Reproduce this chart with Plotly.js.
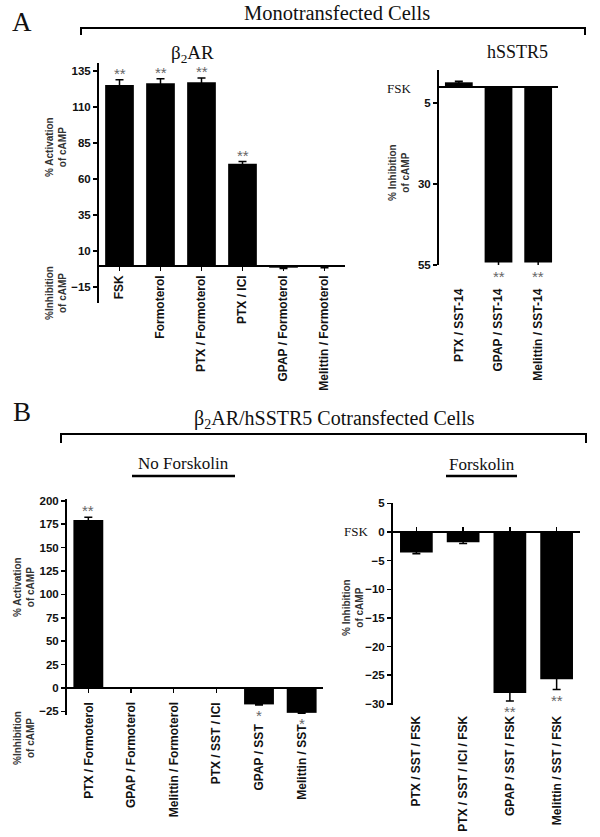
<!DOCTYPE html>
<html>
<head>
<meta charset="utf-8">
<script src="https://cdn.plot.ly/plotly-3.0.1.min.js"></script>
<style>body{margin:0;background:#fff}#chart{width:600px;height:837px}</style>
</head>
<body>
<div id="chart"></div>
<script>
// A - beta2AR monotransfected
var catsA1 = ["FSK", "Formoterol", "PTX / Formoterol", "PTX / ICI", "GPAP / Formoterol", "Melittin / Formoterol"];
var valsA1 = [125.3, 126.5, 127.1, 70.6, -1.5, -1];
var errA1 = [3.5, 3, 3, 1.5, 0.5, 0.5];
var sigA1 = ["**", "**", "**", "**", "", ""];
var ticksA1 = [-15, 10, 35, 60, 85, 110, 135];

// A - hSSTR5 monotransfected (inhibition drawn downwards)
var catsA2 = ["PTX / SST-14", "GPAP / SST-14", "Melittin / SST-14"];
var valsA2 = [-1.4, 54.2, 54.2];
var errA2 = [0.3, 1, 1];
var sigA2 = ["", "**", "**"];
var ticksA2 = [5, 30, 55];

// B - cotransfected, no forskolin
var catsB1 = ["PTX / Formoterol", "GPAP / Formoterol", "Melittin / Formoterol", "PTX / SST / ICI", "GPAP / SST", "Melittin / SST"];
var valsB1 = [179.5, 0, 0, 0, -17.5, -26.5];
var errB1 = [3, 0, 0, 0, 0.5, 0.5];
var sigB1 = ["**", "", "", "", "*", "*"];
var ticksB1 = [-25, 0, 25, 50, 75, 100, 125, 150, 175, 200];

// B - cotransfected, forskolin
var catsB2 = ["PTX / SST / FSK", "PTX / SST / ICI / FSK", "GPAP / SST / FSK", "Melittin / SST / FSK"];
var valsB2 = [-3.6, -1.8, -28.1, -25.7];
var errB2 = [0.2, 0.2, 1.4, 1.8];
var sigB2 = ["", "", "**", "**"];
var ticksB2 = [5, 0, -5, -10, -15, -20, -25, -30];

var W = 600, H = 837;
function fx(p) { return p / W; }
function fy(p) { return 1 - p / H; }

var SANS = "Liberation Sans, Arial, sans-serif";
var SERIF = "Liberation Serif, Times New Roman, serif";
var STAR = "#666";
var LABEL_FONT = {family: SANS, size: 12, color: "#111", weight: "bold"};

// panel boxes in pixels: x0, x1, ytop, ybottom, y range
var panels = [
  {cats: catsA1, vals: valsA1, err: errA1, sig: sigA1, ticks: ticksA1, x: [99, 345], y: [63, 303], range: [-26, 140.5], xt: "outside", stand: 0},
  {cats: catsA2, vals: valsA2, err: errA2, sig: sigA2, ticks: ticksA2, x: [439, 558], y: [70, 265], range: [55, -5.2], xt: "", stand: 196},
  {cats: catsB1, vals: valsB1, err: errB1, sig: sigB1, ticks: ticksB1, x: [67, 323], y: [499, 715], range: [-28.8, 201.9], xt: "outside", stand: 2, noteLabels: true},
  {cats: catsB2, vals: valsB2, err: errB2, sig: sigB2, ticks: ticksB2, x: [393, 580], y: [503, 705], range: [-30.2, 5.06], xt: "inside", stand: 178}
];

var data = [];
var layout = {
  width: W, height: H,
  margin: {l: 0, r: 0, t: 0, b: 0},
  paper_bgcolor: "white", plot_bgcolor: "rgba(0,0,0,0)",
  showlegend: false, bargap: 0.3,
  annotations: [], shapes: []
};

panels.forEach(function (p, i) {
  var n = i === 0 ? "" : String(i + 1);
  var yDom = [fy(p.y[1]), fy(p.y[0])];
  function toPaper(v) {
    return yDom[0] + (v - p.range[0]) / (p.range[1] - p.range[0]) * (yDom[1] - yDom[0]);
  }
  data.push({
    type: "bar", x: p.cats, y: p.vals,
    xaxis: "x" + n, yaxis: "y" + n,
    marker: {color: "black", line: {width: 0}},
    error_y: {type: "data", array: p.err, color: "black", thickness: 1.5, width: 4},
    hoverinfo: "x+y"
  });
  layout["xaxis" + n] = {
    domain: [fx(p.x[0]), fx(p.x[1])], anchor: "free", position: toPaper(0),
    type: "category", showline: true, linecolor: "black", linewidth: 2,
    showgrid: false, zeroline: false, showticklabels: !p.noteLabels,
    ticks: p.xt, ticklen: 4, tickwidth: 1.5, tickcolor: "black",
    tickangle: -90, ticklabelstandoff: p.stand,
    tickfont: LABEL_FONT
  };
  layout["yaxis" + n] = {
    domain: yDom, anchor: "x" + n, range: p.range,
    showline: true, linecolor: "black", linewidth: 2,
    showgrid: false, zeroline: false,
    tickmode: "array", tickvals: p.ticks,
    ticks: "outside", ticklen: 4, tickwidth: 1.5, tickcolor: "black",
    tickfont: {family: SANS, size: 11.5, color: "#111", weight: "bold"}
  };
  // category labels as rotated notes, dropped lower where a star sits under a bar
  if (p.noteLabels) {
    p.cats.forEach(function (c, k) {
      var starred = p.sig[k] && p.vals[k] < 0;
      layout.annotations.push({
        xref: "x" + n, yref: "paper", x: c, y: toPaper(0),
        text: c, showarrow: false, textangle: -90,
        xanchor: "center", yanchor: "top", yshift: starred ? -34 : -12,
        font: LABEL_FONT
      });
    });
  }
  p.sig.forEach(function (s, k) {
    if (!s) return;
    var end = p.vals[k] + (p.vals[k] >= 0 ? p.err[k] : -p.err[k]);
    var up = (p.range[1] > p.range[0]) === (p.vals[k] >= 0);
    layout.annotations.push({
      xref: "x" + n, yref: "paper", x: p.cats[k], y: toPaper(end),
      text: s, showarrow: false,
      yanchor: up ? "bottom" : "top", yshift: up ? -4 : 0,
      font: {family: SANS, size: 15, color: STAR}
    });
  });
});

function note(text, x, y, size, opts) {
  layout.annotations.push(Object.assign({
    xref: "paper", yref: "paper", x: fx(x), y: fy(y), text: text,
    showarrow: false, xanchor: "center", yanchor: "middle",
    font: {family: SERIF, size: size, color: "#111"}
  }, opts || {}));
}
function ytitle(text, x, y) {
  note(text, x, y, 10, {textangle: -90, font: {family: SANS, size: 10, color: "#333", weight: "bold"}});
}
function line(x0, y0, x1, y1, w) {
  layout.shapes.push({type: "line", xref: "paper", yref: "paper",
    x0: fx(x0), y0: fy(y0), x1: fx(x1), y1: fy(y1), line: {color: "black", width: w || 2}});
}

// headings and brackets
note("A", 22, 22, 27);
note("Monotransfected Cells", 337, 13, 20.5);
line(80, 28, 586, 28); line(81, 27, 81, 35); line(585, 27, 585, 35);
note("β<sub>2</sub>AR", 192, 54, 19);
note("hSSTR5", 517, 52, 18);
note("FSK", 399, 88, 13);

note("B", 22, 412, 27);
note("β<sub>2</sub>AR/hSSTR5 Cotransfected Cells", 334, 420, 20);
line(60, 434, 587, 434); line(61, 433, 61, 443); line(586, 433, 586, 443);
note("No Forskolin", 183, 463, 17);
line(132, 476, 235, 476, 2.5);
note("Forskolin", 482, 464, 17);
line(446, 476, 517, 476, 2.5);
note("FSK", 356, 531, 13);

// axis titles
ytitle("% Activation<br>of cAMP", 56, 147);
ytitle("%Inhibition<br>of cAMP", 56, 293);
ytitle("% Inhibition<br>of cAMP", 399, 173);
ytitle("% Activation<br>of cAMP", 24, 587);
ytitle("%Inhibition<br>of cAMP", 24, 738);
ytitle("% Inhibition<br>of cAMP", 353, 608);

Plotly.newPlot("chart", data, layout, {displayModeBar: false, staticPlot: true});
</script>
</body>
</html>
